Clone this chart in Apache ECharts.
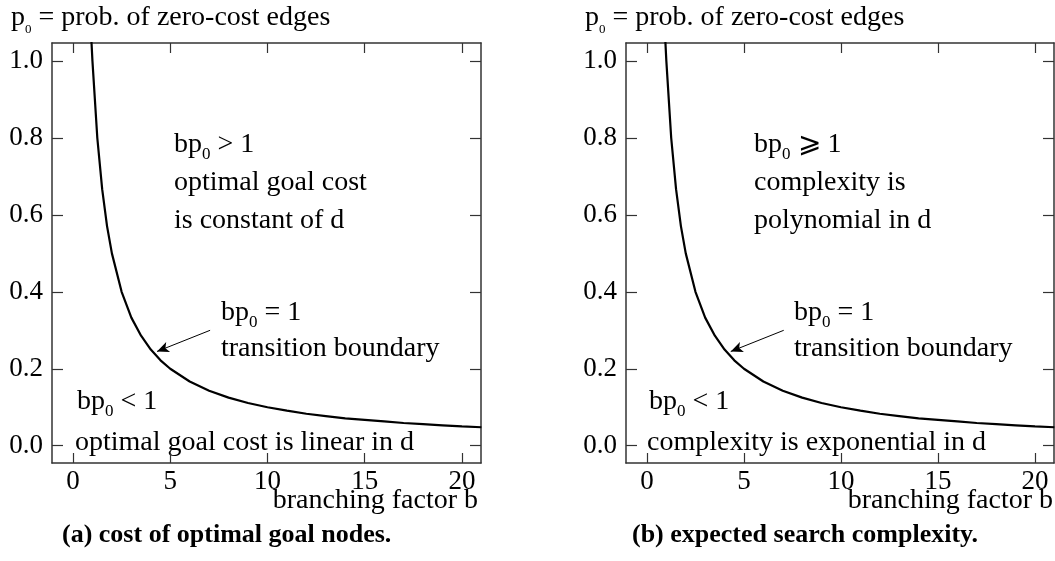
<!DOCTYPE html>
<html>
<head>
<meta charset="utf-8">
<script src="https://cdn.jsdelivr.net/npm/echarts@6/dist/echarts.min.js"></script>
<style>
  html, body { margin: 0; padding: 0; background: #fff; }
  #main { width: 1055px; height: 561px; }
</style>
</head>
<body>
<div id="main"></div>
<script>
// b = branching factor, p0 = prob. of zero-cost edges (curve bp0 = 1)
var bVals = [0.95, 1, 1.25, 1.5, 1.75, 2, 2.5, 3, 3.5, 4, 4.5, 5, 6, 7, 8, 9, 10, 11, 12, 13, 14, 15, 16, 17, 18, 19, 20, 21];
var p0Vals = [1.05, 1.0, 0.8, 0.667, 0.571, 0.5, 0.4, 0.333, 0.286, 0.25, 0.222, 0.2, 0.167, 0.143, 0.125, 0.111, 0.1, 0.091, 0.083, 0.077, 0.071, 0.067, 0.063, 0.059, 0.056, 0.053, 0.05, 0.048];
var xTicks = [0, 5, 10, 15, 20];
var yTicks = [0, 0.2, 0.4, 0.6, 0.8, 1.0];
// arrow from label to curve (b, p0)
var arrowFrom = [7.05, 0.30];
var arrowTo = [4.32, 0.245];

var FONT = '"Liberation Serif", "DejaVu Serif", serif';
var AXIS_COLOR = '#333';

var curve = bVals.map(function (b, i) { return [b, p0Vals[i]]; });

var chart = echarts.init(document.getElementById('main'));

function xAxes(gi) {
  var base = {
    gridIndex: gi, type: 'value', min: -1.08, max: 20.98,
    splitLine: { show: false },
    axisLine: { show: true, onZero: false, lineStyle: { color: AXIS_COLOR, width: 1.5 } },
    axisTick: { show: true, inside: true, length: 10, customValues: xTicks, lineStyle: { color: AXIS_COLOR, width: 1.2 } }
  };
  var bottom = echarts.util.merge({
    position: 'bottom',
    axisLabel: { show: true, customValues: xTicks, color: '#000', fontFamily: FONT, fontSize: 27, margin: 5 }
  }, base, true);
  var top = echarts.util.merge({ position: 'top', axisLabel: { show: false } }, base, true);
  return [bottom, top];
}
function yAxes(gi) {
  var base = {
    gridIndex: gi, type: 'value', min: -0.045, max: 1.047,
    splitLine: { show: false },
    axisLine: { show: true, onZero: false, lineStyle: { color: AXIS_COLOR, width: 1.5 } },
    axisTick: { show: true, inside: true, length: 11, customValues: yTicks, lineStyle: { color: AXIS_COLOR, width: 1.2 } }
  };
  var left = echarts.util.merge({
    position: 'left',
    axisLabel: {
      show: true, customValues: yTicks, color: '#000', fontFamily: FONT, fontSize: 27, margin: 9,
      formatter: function (v) { return v.toFixed(1); }
    }
  }, base, true);
  var right = echarts.util.merge({ position: 'right', axisLabel: { show: false } }, base, true);
  return [left, right];
}

function curveSeries(gi) {
  return {
    type: 'line', xAxisIndex: gi * 2, yAxisIndex: gi * 2,
    data: curve, showSymbol: false, symbol: 'none', smooth: false, clip: true,
    lineStyle: { color: '#000', width: 2.2 },
    silent: true,
    markLine: {
      silent: true, symbol: ['none', 'arrow'], symbolSize: [8, 12],
      label: { show: false },
      lineStyle: { color: '#000', width: 1, type: 'solid' },
      data: [[{ coord: arrowFrom }, { coord: arrowTo }]]
    }
  };
}

var rich = {
  a: { fontFamily: FONT, fontSize: 28, color: '#000', lineHeight: 36 },
  s: { fontFamily: FONT, fontSize: 17, color: '#000', lineHeight: 12, verticalAlign: 'bottom' },
  t: { fontFamily: FONT, fontSize: 13, color: '#000', lineHeight: 8, verticalAlign: 'bottom' },
  b: { fontFamily: FONT, fontSize: 26, fontWeight: 'bold', color: '#000', lineHeight: 36 }
};

// x, y = middle of the line box
function txt(x, y, text, align) {
  return {
    type: 'text', x: x, y: y, silent: true,
    style: { text: text, rich: rich, fill: '#000', align: align || 'left', verticalAlign: 'middle' }
  };
}

var graphics = [
  // panel (a)
  txt(11, 18, '{a|p}{t|0}{a| = prob. of zero-cost edges}'),
  txt(174, 145, '{a|bp}{s|0}{a| > 1}'),
  txt(174, 183, '{a|optimal goal cost}'),
  txt(174, 221, '{a|is constant of d}'),
  txt(221, 313, '{a|bp}{s|0}{a| = 1}'),
  txt(221, 349, '{a|transition boundary}'),
  txt(77, 402, '{a|bp}{s|0}{a| < 1}'),
  txt(75, 443, '{a|optimal goal cost is linear in d}'),
  txt(478, 501, '{a|branching factor b}', 'right'),
  txt(62, 535, '{b|(a) cost of optimal goal nodes.}'),
  // panel (b)
  txt(585, 18, '{a|p}{t|0}{a| = prob. of zero-cost edges}'),
  txt(754, 145, '{a|bp}{s|0}{a| ⩾ 1}'),
  txt(754, 183, '{a|complexity is}'),
  txt(754, 221, '{a|polynomial in d}'),
  txt(794, 313, '{a|bp}{s|0}{a| = 1}'),
  txt(794, 349, '{a|transition boundary}'),
  txt(649, 402, '{a|bp}{s|0}{a| < 1}'),
  txt(647, 443, '{a|complexity is exponential in d}'),
  txt(1053, 501, '{a|branching factor b}', 'right'),
  txt(632, 535, '{b|(b) expected search complexity.}')
];

var option = {
  backgroundColor: '#fff',
  animation: false,
  grid: [
    { left: 52, top: 43, width: 429, height: 420, containLabel: false },
    { left: 626, top: 43, width: 428, height: 420, containLabel: false }
  ],
  xAxis: xAxes(0).concat(xAxes(1)),
  yAxis: yAxes(0).concat(yAxes(1)),
  series: [curveSeries(0), curveSeries(1)],
  graphic: graphics
};
chart.setOption(option);
</script>
</body>
</html>
